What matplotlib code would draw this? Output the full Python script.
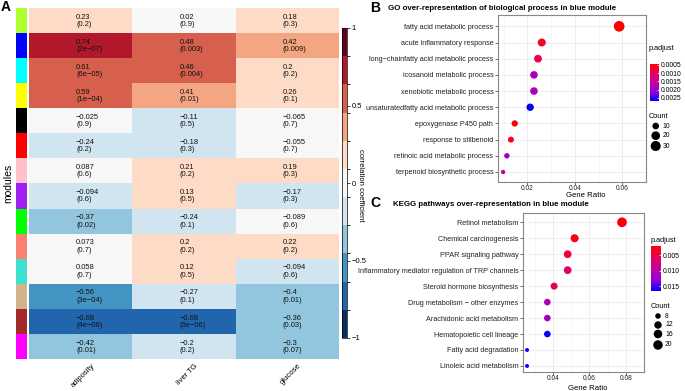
import matplotlib
matplotlib.use("Agg")
import matplotlib.pyplot as plt
import numpy as np
from matplotlib.colors import ListedColormap, BoundaryNorm, LinearSegmentedColormap, Normalize
from matplotlib.cm import ScalarMappable

plt.rcParams['font.family'] = ['Liberation Sans', 'DejaVu Sans']

W, H = 685, 391

# ---- panel A: module-trait correlations ----
modules = ['greenyellow', 'blue', 'cyan', 'yellow', 'black', 'red', 'pink',
           'purple', 'green', 'salmon', 'turquoise', 'tan', 'brown', 'magenta']
# R colour names differ from matplotlib for a few of these
module_hex = ['#ADFF2F', '#0000FF', '#00FFFF', '#FFFF00', '#000000', '#FF0000', '#FFC0CB',
              '#A020F0', '#00FF00', '#FA8072', '#40E0D0', '#D2B48C', '#A52A2A', '#FF00FF']
traits = ['adiposity', 'liver TG', 'glucose']
cor_adiposity = [0.23, 0.74, 0.61, 0.59, -0.025, -0.24, 0.087, -0.094, -0.37, 0.073, 0.058, -0.56, -0.68, -0.42]
p_adiposity = ['0.2', '2e-07', '6e-05', '1e-04', '0.9', '0.2', '0.6', '0.6', '0.02', '0.7', '0.7', '3e-04', '4e-06', '0.01']
cor_liver = [0.02, 0.48, 0.46, 0.41, -0.11, -0.18, 0.21, 0.13, -0.24, 0.2, 0.12, -0.27, -0.68, -0.2]
p_liver = ['0.9', '0.003', '0.004', '0.01', '0.5', '0.3', '0.2', '0.5', '0.1', '0.2', '0.5', '0.1', '3e-06', '0.2']
cor_glucose = [0.18, 0.42, 0.2, 0.26, -0.065, -0.055, 0.19, -0.17, -0.089, 0.22, -0.094, -0.4, -0.36, -0.3]
p_glucose = ['0.3', '0.009', '0.2', '0.1', '0.7', '0.7', '0.3', '0.3', '0.6', '0.2', '0.6', '0.01', '0.03', '0.07']

# ---- panel B: GO enrichment ----
go_terms = ['fatty acid metabolic process', 'acute inflammatory response',
            'long\u2212chainfatty acid metabolic process', 'icosanoid metabolic process',
            'xenobiotic metabolic process', 'unsaturatedfatty acid metabolic process',
            'epoxygenase P450 path', 'response to stilbenoid',
            'retinoic acid metabolic process', 'terpenoid biosynthetic process']
go_ratio = [0.0587, 0.0261, 0.0245, 0.0228, 0.0228, 0.0212, 0.0147, 0.0131, 0.0114, 0.0098]
go_count = [36, 16, 15, 14, 14, 13, 9, 8, 7, 6]
go_padj = [0.00046, 0.0007, 0.0009, 0.0019, 0.0019, 0.0027, 0.0005, 0.0006, 0.0021, 0.0016]

# ---- panel C: KEGG enrichment ----
kegg_terms = ['Retinol metabolism', 'Chemical carcinogenesis', 'PPAR signaling pathway',
              'Inflammatory mediator regulation of TRP channels', 'Steroid hormone biosynthesis',
              'Drug metabolism \u2212 other enzymes', 'Arachidonic acid metabolism',
              'Hematopoietic cell lineage', 'Fatty acid degradation', 'Linoleic acid metabolism']
kegg_ratio = [0.0778, 0.0519, 0.0481, 0.0481, 0.0407, 0.037, 0.037, 0.037, 0.0259, 0.0259]
kegg_count = [21, 14, 13, 13, 11, 10, 10, 10, 7, 7]
kegg_padj = [0.0022, 0.003, 0.004, 0.006, 0.005, 0.011, 0.0115, 0.0163, 0.0163, 0.0163]


def box(l, t, r, b):
    return [l / W, 1 - b / H, (r - l) / W, (b - t) / H]


def fmt(v):
    return '{:.2g}'.format(v).replace('-', '\u2212')


fig = plt.figure(figsize=(W / 100, H / 100), dpi=100)

# heatmap
rdbu = ['#053061', '#2166ac', '#4393c3', '#92c5de', '#d1e5f0', '#f7f7f7',
        '#fddbc7', '#f4a582', '#d6604d', '#b2182b', '#67001f']
cmap = ListedColormap(rdbu)
norm = BoundaryNorm(np.linspace(-1, 1, 12), cmap.N)
cors = np.array([cor_adiposity, cor_liver, cor_glucose]).T
pvals = [p_adiposity, p_liver, p_glucose]
nrow = len(modules)

ax = fig.add_axes(box(29, 8.3, 339, 359.3))
ax.imshow(cors, cmap=cmap, norm=norm, aspect='auto', interpolation='nearest')
for i in range(nrow):
    for j in range(len(traits)):
        ax.text(j - 0.045, i, fmt(cors[i, j]) + '\n(' + pvals[j][i].replace('-', '\u2212') + ')',
                ha='left', va='center', fontsize=5.4, linespacing=1.05, color='#111111')
ax.set_xticks([])
ax.set_yticks([])
for s in ax.spines.values():
    s.set_visible(False)

axm = fig.add_axes(box(16, 8.3, 27, 359.3))
axm.imshow(np.arange(nrow)[:, None], cmap=ListedColormap(module_hex), aspect='auto',
           interpolation='nearest')
axm.set_xticks([])
axm.set_yticks([])
for s in axm.spines.values():
    s.set_visible(False)

cax = fig.add_axes(box(341.7, 28, 347.3, 338))
cb = fig.colorbar(ScalarMappable(norm=norm, cmap=cmap), cax=cax, ticks=[-1, -0.5, 0, 0.5, 1])
cb.ax.set_yticklabels(['\u22121', '\u22120.5', '0', '0.5', '1'])
cb.ax.tick_params(labelsize=5.5, length=2, width=0.5, pad=1)
cb.outline.set_linewidth(0.5)

ov = fig.add_axes([0, 0, 1, 1])
ov.set_xlim(0, W)
ov.set_ylim(H, 0)
ov.axis('off')
ov.patch.set_alpha(0)

ov.text(361, 185, 'correlation coefficient', rotation=270, ha='center', va='center', fontsize=5.5)
ov.text(8, 183, 'modules', rotation=90, ha='center', va='center', fontsize=7.5)
ov.text(1, 7, 'A', fontsize=10, fontweight='bold', va='center', ha='left')
for j, t in enumerate(traits):
    ax.text(j + 0.1, nrow - 0.5 + 0.12, t, rotation=45, ha='right', va='top',
            rotation_mode='anchor', fontsize=5.5, transform=ax.transData, clip_on=False)

# dot plots
padj_cmap = LinearSegmentedColormap.from_list(
    'padj', ['#FF0000', '#E6005E', '#C4009D', '#9500D6', '#0000FF'])


def dotplot(rect, terms, ratio, count, padj, xlim, ylim, xticks, vrange, size_rng):
    a = fig.add_axes(box(*rect))
    n = len(terms)
    y = np.arange(n, 0, -1)
    cmin, cmax = min(count), max(count)
    dmin, dmax = size_rng

    def dia(c):
        return dmin + (dmax - dmin) * np.sqrt((np.asarray(c) - cmin) / (cmax - cmin))

    pn = Normalize(*vrange)
    a.scatter(ratio, y, s=(dia(count) * 0.72) ** 2, c=padj, cmap=padj_cmap, norm=pn,
              edgecolors='none', zorder=3)
    a.set_xlim(*xlim)
    a.set_ylim(*ylim)
    a.set_yticks(y)
    a.set_yticklabels(terms, fontsize=5.2)
    a.set_xticks(xticks)
    a.set_xticklabels(['%.2f' % v for v in xticks], fontsize=4.8)
    a.set_xticks([v - 0.01 for v in xticks] + [xticks[-1] + 0.01], minor=True)
    a.grid(True, which='major', color='#EBEBEB', lw=0.6, zorder=0)
    a.grid(True, which='minor', axis='x', color='#F2F2F2', lw=0.4, zorder=0)
    a.set_axisbelow(True)
    a.tick_params(which='major', length=2, width=0.5, color='#333333', pad=1.2,
                  labelcolor='#222222')
    a.tick_params(axis='x', which='major', pad=0.6)
    a.tick_params(which='minor', length=0)
    for s in a.spines.values():
        s.set_color('#888888')
        s.set_linewidth(0.8)
    return a, pn, dia


axb, nb, dia_b = dotplot((497.7, 15, 646, 181.7), go_terms, go_ratio, go_count, go_padj,
                         (0.00753, 0.0615), (0.4, 10.7), [0.02, 0.04, 0.06],
                         (0.00046, 0.0027), (4.3, 10.7))
axc, nc, dia_c = dotplot((522.7, 212.7, 644.3, 371.7), kegg_terms, kegg_ratio, kegg_count,
                         kegg_padj, (0.02353, 0.08075), (0.64, 10.6), [0.04, 0.06, 0.08],
                         (0.0019, 0.0166), (4.0, 9.7))

ov.text(586, 195.2, 'Gene Ratio', fontsize=5.6, ha='center', va='center')
ov.text(588, 388.3, 'Gene Ratio', fontsize=5.6, ha='center', va='center')

ov.text(370, 8, 'B', fontsize=10, fontweight='bold', va='center', ha='left')
ov.text(388, 9, 'GO over-representation of biological process in blue module',
        fontsize=5.65, fontweight='bold', va='center', ha='left')
ov.text(370, 203, 'C', fontsize=10, fontweight='bold', va='center', ha='left')
ov.text(392.7, 204, 'KEGG pathways over-representation in blue module',
        fontsize=5.65, fontweight='bold', va='center', ha='left')


def padj_legend(title_xy, bar, ticks, labels, pn, count_title_xy, dot_x, dot_ys, levels, dia):
    ov.text(title_xy[0], title_xy[1], 'p.adjust', fontsize=5.3, va='center', ha='left')
    c = fig.add_axes(box(*bar))
    cbar = fig.colorbar(ScalarMappable(norm=pn, cmap=padj_cmap), cax=c, ticks=ticks)
    c.invert_yaxis()
    cbar.outline.set_visible(False)
    c.set_yticklabels(labels)
    c.tick_params(labelsize=4.9, length=1.5, width=0.5, color='white', direction='in', pad=1.5)
    ov.text(count_title_xy[0], count_title_xy[1], 'Count', fontsize=5.3, va='center', ha='left')
    for yy, lv in zip(dot_ys, levels):
        ov.scatter([dot_x], [yy], s=(dia(lv) * 0.72) ** 2, color='black', edgecolors='none')
        ov.text(dot_x + 7, yy, str(lv), fontsize=4.9, va='center', ha='left')


padj_legend((649, 49), (650, 64.3, 659, 101), [0.0005, 0.001, 0.0015, 0.002, 0.0025],
            ['0.0005', '0.0010', '0.0015', '0.0020', '0.0025'], nb,
            (649, 116), 655.7, [126, 135.7, 146], [10, 20, 30], dia_b)
padj_legend((651, 240), (651, 246, 661, 291), [0.005, 0.01, 0.015],
            ['0.005', '0.010', '0.015'], nc,
            (651, 306), 658, [316, 325, 334, 345], [8, 12, 16, 20], dia_c)

fig.savefig('out.png', dpi=100)
